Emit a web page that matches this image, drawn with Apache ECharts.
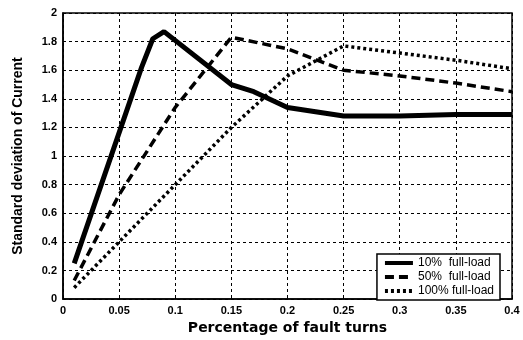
<!DOCTYPE html>
<html>
<head>
<meta charset="utf-8">
<script src="https://cdn.jsdelivr.net/npm/echarts@6/dist/echarts.min.js"></script>
<style>
  html, body { margin: 0; padding: 0; background: #fff; }
  #chart { width: 523px; height: 340px; }
</style>
</head>
<body>
<div id="chart"></div>
<script>
// 10% full-load (solid)
var load10X = [0.01, 0.07, 0.08, 0.09, 0.15, 0.17, 0.2, 0.25, 0.3, 0.35, 0.4];
var load10Y = [0.25, 1.62, 1.82, 1.87, 1.5, 1.45, 1.34, 1.28, 1.28, 1.29, 1.29];
// 50% full-load (dashed)
var load50X = [0.01, 0.05, 0.1, 0.15, 0.2, 0.25, 0.3, 0.35, 0.4];
var load50Y = [0.13, 0.73, 1.34, 1.83, 1.75, 1.6, 1.56, 1.51, 1.45];
// 100% full-load (dotted)
var load100X = [0.01, 0.05, 0.1, 0.15, 0.2, 0.25, 0.3, 0.35, 0.4];
var load100Y = [0.08, 0.4, 0.8, 1.2, 1.56, 1.77, 1.72, 1.67, 1.61];

var seriesNames = ['10%  full-load', '50%  full-load', '100% full-load'];

function pairs(xs, ys) {
  return xs.map(function (x, i) { return [x, ys[i]]; });
}

var chart = echarts.init(document.getElementById('chart'));
var gridLine = { color: '#000', width: 1, type: [3, 3] };
var labelStyle = { color: '#000', fontSize: 11, fontWeight: 'bold', fontFamily: 'Liberation Sans' };

chart.setOption({
  animation: false,
  backgroundColor: '#fff',
  grid: {
    left: 63, right: 11, top: 13, bottom: 34,
    show: true, borderColor: '#000', borderWidth: 1.5
  },
  legend: {
    right: 23, top: 254,
    orient: 'vertical',
    backgroundColor: '#fff',
    borderColor: '#000',
    borderWidth: 1.5,
    borderRadius: 0,
    padding: [3, 6, 3, 6],
    itemGap: 2,
    itemWidth: 28,
    itemHeight: 10,
    itemStyle: { opacity: 0 },
    lineStyle: { width: 4 },
    textStyle: { color: '#000', fontSize: 12, fontFamily: 'Liberation Sans' },
    data: seriesNames
  },
  xAxis: {
    type: 'value',
    min: 0, max: 0.4, interval: 0.05,
    name: 'Percentage of fault turns',
    nameLocation: 'middle',
    nameGap: 21,
    nameTextStyle: { color: '#000', fontSize: 14, fontWeight: 'bold', fontFamily: 'DejaVu Sans' },
    axisLine: { show: true, lineStyle: { color: '#000', width: 1.5 } },
    axisTick: { show: true, inside: true, length: 3, lineStyle: { color: '#000' } },
    axisLabel: Object.assign({ margin: 6 }, labelStyle),
    splitLine: { show: true, lineStyle: gridLine }
  },
  yAxis: {
    type: 'value',
    min: 0, max: 2, interval: 0.2,
    name: 'Standard deviation of Current',
    nameLocation: 'middle',
    nameGap: 38,
    nameTextStyle: { color: '#000', fontSize: 14, fontWeight: 'bold', fontFamily: 'Liberation Sans' },
    axisLine: { show: true, lineStyle: { color: '#000', width: 1.5 } },
    axisTick: { show: true, inside: true, length: 3, lineStyle: { color: '#000' } },
    axisLabel: Object.assign({ margin: 6 }, labelStyle),
    splitLine: { show: true, lineStyle: gridLine }
  },
  series: [
    {
      name: seriesNames[0], type: 'line', symbol: 'none',
      data: pairs(load10X, load10Y),
      itemStyle: { color: '#000' },
      lineStyle: { color: '#000', width: 5, type: 'solid' }
    },
    {
      name: seriesNames[1], type: 'line', symbol: 'none',
      data: pairs(load50X, load50Y),
      itemStyle: { color: '#000' },
      lineStyle: { color: '#000', width: 3.5, type: [9, 5] }
    },
    {
      name: seriesNames[2], type: 'line', symbol: 'none',
      data: pairs(load100X, load100Y),
      itemStyle: { color: '#000' },
      lineStyle: { color: '#000', width: 3.5, type: [3, 3] }
    }
  ]
});
</script>
</body>
</html>
